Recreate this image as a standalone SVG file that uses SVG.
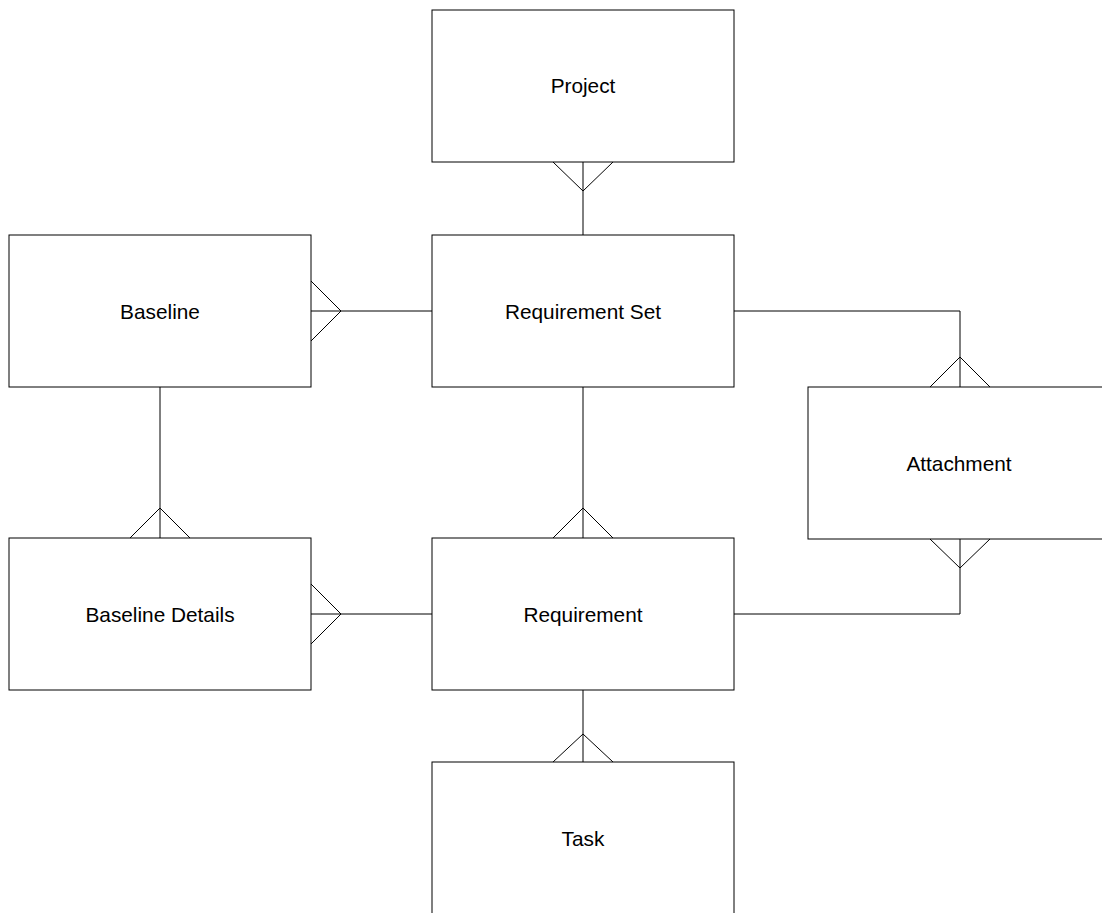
<svg xmlns="http://www.w3.org/2000/svg" width="1102" height="913" viewBox="0 0 1102 913">
<style>
.box{fill:#fff;stroke:#000;stroke-width:1}
.lbl{font-family:"Liberation Sans",Arial,sans-serif;font-size:20.8px;fill:#000;text-anchor:middle}
.conn{fill:none;stroke:#000;stroke-width:1}
</style>
<rect width="1102" height="913" fill="#fff"/>
<g id="project"><rect class="box" x="432" y="10" width="302" height="152"/><text class="lbl" x="583" y="93">Project</text></g>
<g id="requirement-set"><rect class="box" x="432" y="235" width="302" height="152"/><text class="lbl" x="583" y="318.5">Requirement Set</text></g>
<g id="baseline"><rect class="box" x="9" y="235" width="302" height="152"/><text class="lbl" x="160" y="318.5">Baseline</text></g>
<g id="attachment"><rect class="box" x="808" y="387" width="302" height="152"/><text class="lbl" x="959" y="470.5">Attachment</text></g>
<g id="baseline-details"><rect class="box" x="9" y="538" width="302" height="152"/><text class="lbl" x="160" y="621.5">Baseline Details</text></g>
<g id="requirement"><rect class="box" x="432" y="538" width="302" height="152"/><text class="lbl" x="583" y="621.5">Requirement</text></g>
<g id="task"><rect class="box" x="432" y="762" width="302" height="152"/><text class="lbl" x="583" y="845.5">Task</text></g>
<g id="connectors">
<path class="conn" d="M583 162V235 M553 162L583 191L613 162"/>
<path class="conn" d="M311 311H432 M311 281L341 311L311 341"/>
<path class="conn" d="M734 311H960V387 M930 387L960 357L990 387"/>
<path class="conn" d="M160 387V538 M130 538L160 508L190 538"/>
<path class="conn" d="M583 387V538 M553 538L583 508L613 538"/>
<path class="conn" d="M734 614H960V539 M930 539L960 568L990 539"/>
<path class="conn" d="M311 614H432 M311 584L341 614L311 644"/>
<path class="conn" d="M583 690V762 M553 762L583 734L613 762"/>
</g>
</svg>
